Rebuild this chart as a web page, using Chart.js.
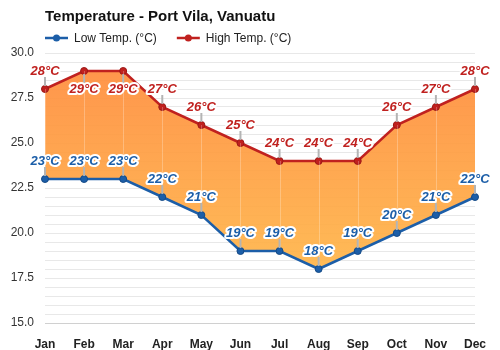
<!DOCTYPE html>
<html>
<head>
<meta charset="utf-8">
<title>Temperature - Port Vila, Vanuatu</title>
<script src="https://cdn.jsdelivr.net/npm/chart.js@4"></script>
<style>
  html, body { margin: 0; padding: 0; background: #fff; }
  #wrap { width: 500px; height: 350px; }
</style>
</head>
<body>
<div id="wrap"><canvas id="myChart" width="500" height="350"></canvas></div>
<script>
const months = ['Jan', 'Feb', 'Mar', 'Apr', 'May', 'Jun', 'Jul', 'Aug', 'Sep', 'Oct', 'Nov', 'Dec'];
const lowTemps = [23, 23, 23, 22, 21, 19, 19, 18, 19, 20, 21, 22];
const highTemps = [28, 29, 29, 27, 26, 25, 24, 24, 24, 26, 27, 28];
const seriesNames = ['Low Temp. (°C)', 'High Temp. (°C)'];
const yMin = 15, yMax = 30, yLabelStep = 2.5, yGridStep = 0.5;

const lowColor = '#1c5ea8';
const highColor = '#c0211f';
const fontFamily = '"Liberation Sans", Arial, Helvetica, sans-serif';

// title + legend drawn by hand so they line up with the plot's left edge
const headerPlugin = {
  id: 'header',
  afterDraw(chart) {
    const ctx = chart.ctx;
    const left = chart.chartArea.left;
    ctx.save();
    ctx.fillStyle = '#111';
    ctx.font = 'bold 15px ' + fontFamily;
    ctx.textBaseline = 'middle';
    ctx.fillText('Temperature - Port Vila, Vanuatu', left, 17);

    let x = left;
    const y = 38;
    ctx.font = '12px ' + fontFamily;
    [lowColor, highColor].forEach((c, i) => {
      ctx.strokeStyle = c;
      ctx.lineWidth = 2.5;
      ctx.beginPath();
      ctx.moveTo(x, y);
      ctx.lineTo(x + 23, y);
      ctx.stroke();
      ctx.fillStyle = c;
      ctx.beginPath();
      ctx.arc(x + 11.5, y, 3.5, 0, Math.PI * 2);
      ctx.fill();
      ctx.fillStyle = '#222';
      ctx.fillText(seriesNames[i], x + 29, y + 1);
      x += 29 + ctx.measureText(seriesNames[i]).width + 20;
    });
    ctx.restore();
  }
};

// faint vertical lines inside the band between the two series
const bandLinesPlugin = {
  id: 'bandLines',
  afterDatasetDraw(chart, args) {
    if (args.index !== 1) return;
    const ctx = chart.ctx;
    const low = chart.getDatasetMeta(0).data;
    const high = chart.getDatasetMeta(1).data;
    ctx.save();
    ctx.strokeStyle = 'rgba(255,255,255,0.25)';
    ctx.lineWidth = 1;
    high.forEach((p, i) => {
      const x = Math.round(p.x) + 0.5;
      ctx.beginPath();
      ctx.moveTo(x, p.y);
      ctx.lineTo(x, low[i].y);
      ctx.stroke();
    });
    ctx.restore();
  }
};

// value labels with a short grey leader to each point
const valueLabelsPlugin = {
  id: 'valueLabels',
  afterDatasetsDraw(chart) {
    const ctx = chart.ctx;
    const area = chart.chartArea;
    ctx.save();
    ctx.font = 'italic bold 13px ' + fontFamily;
    ctx.textAlign = 'center';
    ctx.textBaseline = 'middle';
    chart.data.datasets.forEach((ds, di) => {
      const meta = chart.getDatasetMeta(di);
      meta.data.forEach((p, i) => {
        const below = p.y - 26 < area.top;
        const ly = below ? p.y + 18 : p.y - 18;
        ctx.strokeStyle = '#b4b4b4';
        ctx.lineWidth = 2;
        ctx.beginPath();
        if (below) {
          ctx.moveTo(p.x, p.y + 3);
          ctx.lineTo(p.x, ly - 6);
        } else {
          ctx.moveTo(p.x, p.y - 3);
          ctx.lineTo(p.x, ly + 6);
        }
        ctx.stroke();
        const text = ds.data[i] + '°C';
        ctx.lineJoin = 'round';
        ctx.strokeStyle = '#fff';
        ctx.lineWidth = 4;
        ctx.strokeText(text, p.x, ly);
        ctx.fillStyle = ds.borderColor;
        ctx.fillText(text, p.x, ly);
      });
    });
    ctx.restore();
  }
};

function bandGradient(context) {
  const chart = context.chart;
  const area = chart.chartArea;
  if (!area) return '#ffa047';
  const ys = chart.scales.y;
  const g = chart.ctx.createLinearGradient(0, ys.getPixelForValue(29), 0, ys.getPixelForValue(18));
  g.addColorStop(0, 'rgba(255,142,62,0.93)');
  g.addColorStop(1, 'rgba(255,182,74,0.93)');
  return g;
}

const ctx = document.getElementById('myChart').getContext('2d');
new Chart(ctx, {
  type: 'line',
  data: {
    labels: months,
    datasets: [
      {
        label: seriesNames[0],
        data: lowTemps,
        borderColor: lowColor,
        backgroundColor: lowColor,
        pointBackgroundColor: lowColor,
        pointBorderColor: '#154a86',
        pointBorderWidth: 1,
        borderWidth: 2.5,
        pointRadius: 3.5,
        fill: false,
        tension: 0
      },
      {
        label: seriesNames[1],
        data: highTemps,
        borderColor: highColor,
        backgroundColor: bandGradient,
        pointBackgroundColor: highColor,
        pointBorderColor: '#9c1816',
        pointBorderWidth: 1,
        borderWidth: 2.5,
        pointRadius: 3.5,
        fill: '-1',
        tension: 0
      }
    ]
  },
  options: {
    responsive: false,
    animation: false,
    layout: { padding: { top: 53, right: 25, bottom: 0, left: 0 } },
    plugins: {
      legend: { display: false },
      title: { display: false },
      tooltip: { enabled: false }
    },
    scales: {
      x: {
        grid: { display: false },
        border: { display: false },
        ticks: {
          color: '#222',
          padding: 6,
          font: { family: fontFamily, size: 12, weight: 'bold' },
          maxRotation: 0
        },
        afterFit(scale) { scale.height = 27; }
      },
      y: {
        min: yMin,
        max: yMax,
        border: { display: false },
        grid: {
          drawTicks: false,
          color: (c) => c.tick && c.tick.value === yMin ? '#d0d0d0' : '#e8e8e8',
          lineWidth: 1
        },
        ticks: {
          stepSize: yGridStep,
          autoSkip: false,
          padding: 11,
          color: '#333',
          font: { family: fontFamily, size: 12 },
          callback: (v) => (Math.abs(v / yLabelStep - Math.round(v / yLabelStep)) < 1e-6 ? v.toFixed(1) : '')
        },
        afterFit(scale) { scale.width = 45; }
      }
    }
  },
  plugins: [headerPlugin, bandLinesPlugin, valueLabelsPlugin]
});
</script>
</body>
</html>
